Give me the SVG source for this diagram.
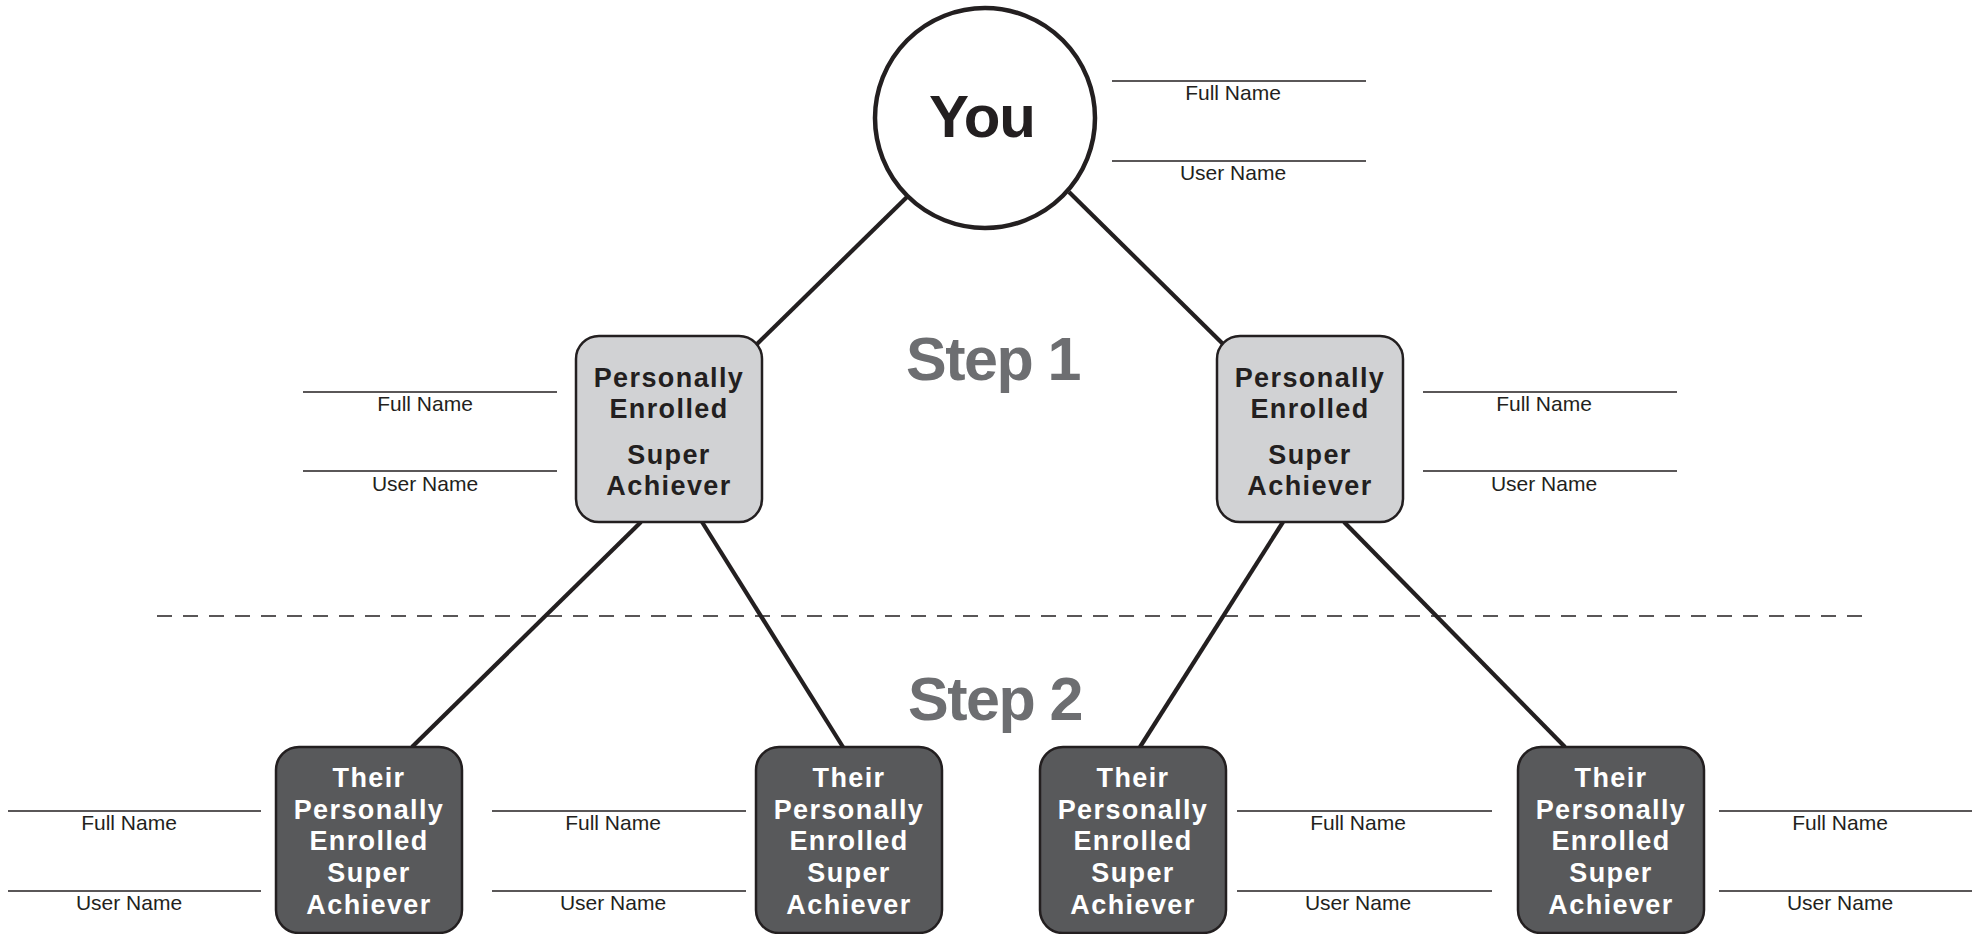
<svg xmlns="http://www.w3.org/2000/svg" width="1982" height="934" viewBox="0 0 1982 934">
<style>
.bg{fill:#ffffff}
.conn line{stroke:#231f20;stroke-width:4.2;fill:none}
.dash{stroke:#231f20;stroke-width:1.5;stroke-dasharray:15 11}
.field{stroke:#231f20;stroke-width:1.5}
.lbl{font-family:"Liberation Sans",Arial,sans-serif;font-size:21px;fill:#231f20;text-anchor:middle}
.n1 rect{fill:#d1d2d4;stroke:#231f20;stroke-width:2.5}
.n2 rect{fill:#58595b;stroke:#231f20;stroke-width:2.5}
.nt{font-family:"Liberation Sans",Arial,sans-serif;font-weight:bold;font-size:27px;letter-spacing:1.4px;text-anchor:middle}
.n1 .nt{fill:#231f20}
.n2 .nt{fill:#ffffff}
.step{font-family:"Liberation Sans",Arial,sans-serif;font-weight:bold;font-size:61px;letter-spacing:-1.5px;fill:#6d6e71;text-anchor:middle}
</style>
<rect class="bg" x="0" y="0" width="1982" height="934"/>
<line class="dash" x1="157" y1="616" x2="1871" y2="616"/>
<g id="connectors" class="conn">
<line x1="908" y1="196" x2="756" y2="345"/>
<line x1="1069" y1="192" x2="1224" y2="345"/>
<line x1="641" y1="522" x2="412" y2="747"/>
<line x1="702" y1="522" x2="843" y2="747"/>
<line x1="1283" y1="522" x2="1140" y2="747"/>
<line x1="1344" y1="522" x2="1565" y2="747"/>
</g>
<text class="step" x="993" y="380">Step 1</text>
<text class="step" x="995" y="720">Step 2</text>
<g id="you">
<circle cx="985" cy="118" r="110" fill="#ffffff" stroke="#231f20" stroke-width="4.5"/>
<text x="982" y="137" font-family="Liberation Sans,Arial,sans-serif" font-weight="bold" font-size="60" letter-spacing="-1" fill="#231f20" text-anchor="middle">You</text>
<line class="field" x1="1112" y1="81" x2="1366" y2="81"/>
<text class="lbl" x="1233" y="100">Full Name</text>
<line class="field" x1="1112" y1="161" x2="1366" y2="161"/>
<text class="lbl" x="1233" y="180">User Name</text>
</g>
<g id="pe-left" class="n1">
<rect x="576" y="336" width="186" height="186" rx="23"/>
<text class="nt" x="669" y="387">Personally</text>
<text class="nt" x="669" y="418">Enrolled</text>
<text class="nt" x="669" y="464">Super</text>
<text class="nt" x="669" y="495">Achiever</text>
<line class="field" x1="303" y1="392" x2="557" y2="392"/>
<text class="lbl" x="425" y="411">Full Name</text>
<line class="field" x1="303" y1="471" x2="557" y2="471"/>
<text class="lbl" x="425" y="491">User Name</text>
</g>
<g id="pe-right" class="n1">
<rect x="1217" y="336" width="186" height="186" rx="23"/>
<text class="nt" x="1310" y="387">Personally</text>
<text class="nt" x="1310" y="418">Enrolled</text>
<text class="nt" x="1310" y="464">Super</text>
<text class="nt" x="1310" y="495">Achiever</text>
<line class="field" x1="1423" y1="392" x2="1677" y2="392"/>
<text class="lbl" x="1544" y="411">Full Name</text>
<line class="field" x1="1423" y1="471" x2="1677" y2="471"/>
<text class="lbl" x="1544" y="491">User Name</text>
</g>
<g id="tpe-1" class="n2">
<rect x="276" y="747" width="186" height="186" rx="23"/>
<text class="nt" x="369" y="787">Their</text>
<text class="nt" x="369" y="819">Personally</text>
<text class="nt" x="369" y="850">Enrolled</text>
<text class="nt" x="369" y="882">Super</text>
<text class="nt" x="369" y="914">Achiever</text>
<line class="field" x1="8" y1="811" x2="261" y2="811"/>
<text class="lbl" x="129" y="830">Full Name</text>
<line class="field" x1="8" y1="891" x2="261" y2="891"/>
<text class="lbl" x="129" y="910">User Name</text>
</g>
<g id="tpe-2" class="n2">
<rect x="756" y="747" width="186" height="186" rx="23"/>
<text class="nt" x="849" y="787">Their</text>
<text class="nt" x="849" y="819">Personally</text>
<text class="nt" x="849" y="850">Enrolled</text>
<text class="nt" x="849" y="882">Super</text>
<text class="nt" x="849" y="914">Achiever</text>
<line class="field" x1="492" y1="811" x2="746" y2="811"/>
<text class="lbl" x="613" y="830">Full Name</text>
<line class="field" x1="492" y1="891" x2="746" y2="891"/>
<text class="lbl" x="613" y="910">User Name</text>
</g>
<g id="tpe-3" class="n2">
<rect x="1040" y="747" width="186" height="186" rx="23"/>
<text class="nt" x="1133" y="787">Their</text>
<text class="nt" x="1133" y="819">Personally</text>
<text class="nt" x="1133" y="850">Enrolled</text>
<text class="nt" x="1133" y="882">Super</text>
<text class="nt" x="1133" y="914">Achiever</text>
<line class="field" x1="1237" y1="811" x2="1492" y2="811"/>
<text class="lbl" x="1358" y="830">Full Name</text>
<line class="field" x1="1237" y1="891" x2="1492" y2="891"/>
<text class="lbl" x="1358" y="910">User Name</text>
</g>
<g id="tpe-4" class="n2">
<rect x="1518" y="747" width="186" height="186" rx="23"/>
<text class="nt" x="1611" y="787">Their</text>
<text class="nt" x="1611" y="819">Personally</text>
<text class="nt" x="1611" y="850">Enrolled</text>
<text class="nt" x="1611" y="882">Super</text>
<text class="nt" x="1611" y="914">Achiever</text>
<line class="field" x1="1719" y1="811" x2="1972" y2="811"/>
<text class="lbl" x="1840" y="830">Full Name</text>
<line class="field" x1="1719" y1="891" x2="1972" y2="891"/>
<text class="lbl" x="1840" y="910">User Name</text>
</g>
</svg>
